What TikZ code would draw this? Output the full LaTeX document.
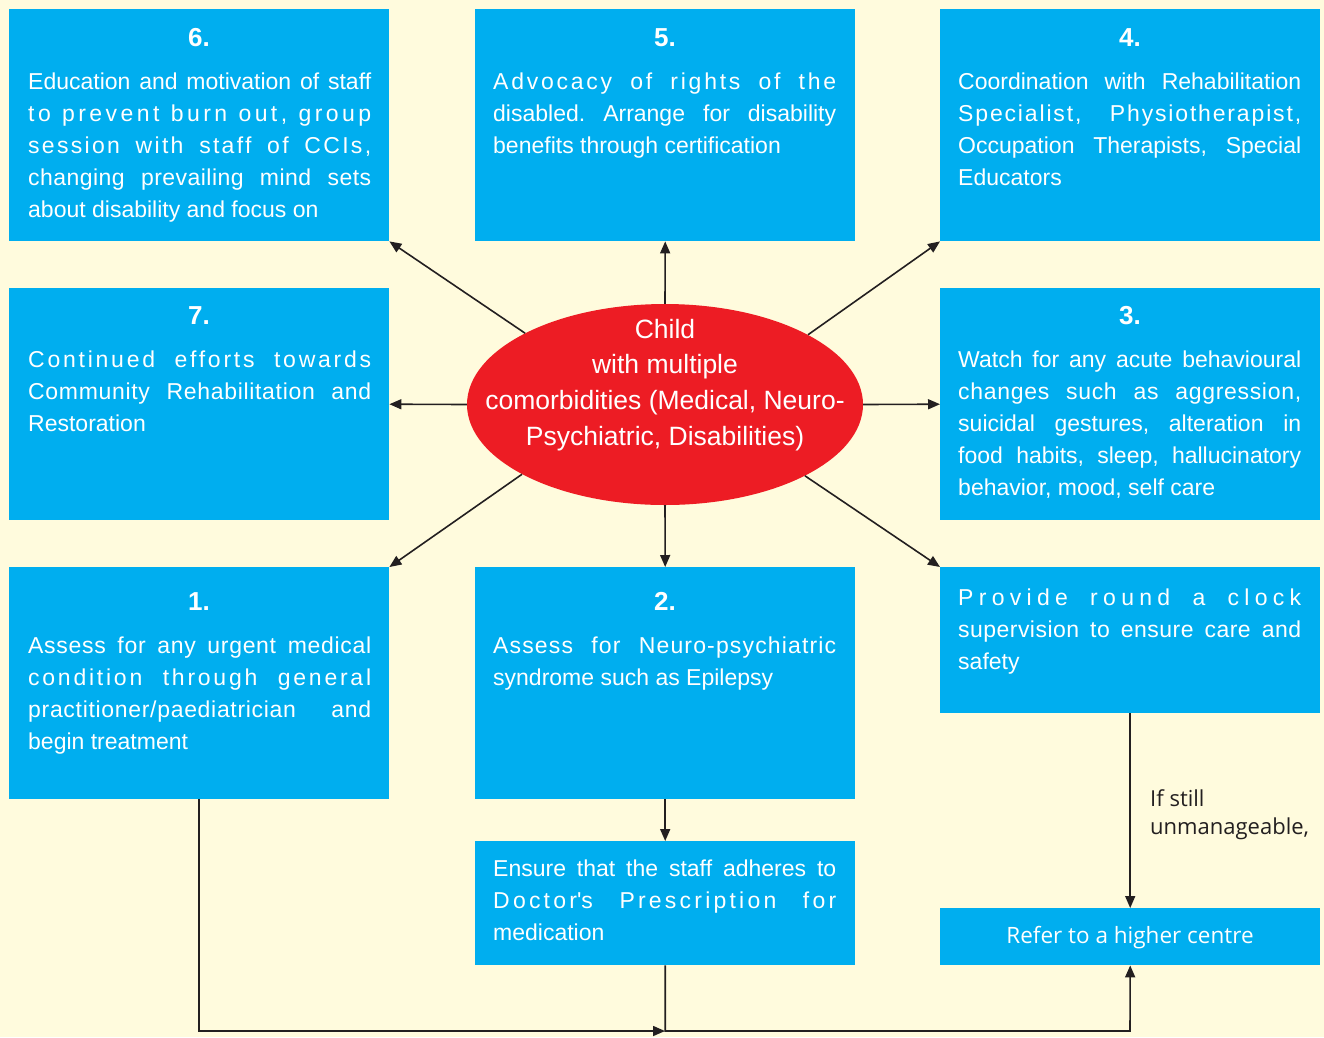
\documentclass[tikz,border=0pt]{standalone}
\usepackage{fontspec}
\setmainfont{Liberation Sans}
\newfontfamily\osans{Open Sans}
\usetikzlibrary{arrows.meta,shapes.geometric}
\definecolor{bgc}{HTML}{FFFBDD}
\definecolor{boxc}{HTML}{00AEEF}
\definecolor{redc}{HTML}{ED1C24}
\definecolor{linec}{HTML}{231F20}
\frenchspacing
\newcommand\jl[2][0]{\makebox[\linewidth][s]{\addfontfeature{LetterSpace=#1}#2}}
\newcommand\blk[1]{\parbox[t]{343pt}{\fontsize{23}{32}\selectfont #1}}
\begin{document}
\begin{tikzpicture}[x=1pt,y=-1pt,
  box/.style={rectangle,fill=boxc,inner sep=0pt,anchor=north west,minimum width=380pt},
  num/.style={text=white,font=\fontsize{26}{26}\selectfont\bfseries,anchor=base,inner sep=0pt},
  txt/.style={text=white,anchor=base west,inner sep=0pt},
  arr/.style={draw=linec,line width=1.6pt,-{Triangle[length=12pt,width=10pt]}}]
\fill[bgc] (0,0) rectangle (1324,1037);
\useasboundingbox (0,0) rectangle (1324,1037);

% boxes
\node[box,minimum height=232pt] (b6) at (9,9) {};
\node[box,minimum height=232pt] (b5) at (475,9) {};
\node[box,minimum height=232pt] (b4) at (940,9) {};
\node[box,minimum height=232pt] (b7) at (9,288) {};
\node[box,minimum height=232pt] (b3) at (940,288) {};
\node[box,minimum height=232pt] (b1) at (9,567) {};
\node[box,minimum height=232pt] (b2) at (475,567) {};
\node[box,minimum height=146pt] (bp) at (940,567) {};
\node[box,minimum height=124pt] (be) at (475,841) {};
\node[box,minimum height=57pt] (br) at (940,908) {};

% centre ellipse
\node[ellipse,fill=redc,minimum width=396pt,minimum height=201pt,inner sep=0pt] (c) at (665,404.5) {};
\node[anchor=base,inner sep=0pt,text=white] (ct) at (665,338)
  {\parbox[t]{420pt}{\centering\fontsize{26.5}{35.7}\selectfont Child\\with multiple\\comorbidities (Medical, Neuro-\\Psychiatric, Disabilities)}};

% arrows from centre
\draw[arr] (c.153.43) -- (b6.south east);
\draw[arr] (c.north) -- (b5.south);
\draw[arr] (c.26.57) -- (b4.south west);
\draw[arr] (c.west) -- (b7.east);
\draw[arr] (c.east) -- (b3.west);
\draw[arr] (c.206.57) -- (b1.north east);
\draw[arr] (c.south) -- (b2.north);
\draw[arr] (c.333.43) -- (bp.north west);

% other connectors
\draw[arr] (b2.south) -- (be.north);
\draw[arr] (bp.south) -- (br.north);
\coordinate (m) at (665,1031);
\coordinate (m2) at (1130,1031);
\draw[arr] (b1.south) |- (m);
\draw[arr] (be.south) |- (m2) -- (br.south);

% numbers
\node[num] (n6) at (199,46) {6.};
\node[num] (n5) at (665,46) {5.};
\node[num] (n4) at (1130,46) {4.};
\node[num] (n7) at (199,324) {7.};
\node[num] (n3) at (1130,324) {3.};
\node[num] (n1) at (199,610) {1.};
\node[num] (n2) at (665,610) {2.};

% texts
\node[txt] (t6) at (28,89) {\blk{%
\jl{Education and motivation of staff}\\
\jl[15]{to prevent burn out, group}\\
\jl[10]{session with staff of CCIs,}\\
\jl[2]{changing prevailing mind sets}\\
about disability and focus on}};
\node[txt] (t5) at (493,89) {\blk{%
\jl[12]{Advocacy of rights of the}\\
\jl{disabled. Arrange for disability}\\
benefits through certification}};
\node[txt] (t4) at (958,89) {\blk{%
\jl{Coordination with Rehabilitation}\\
\jl[8]{Specialist, Physiotherapist,}\\
\jl{Occupation Therapists, Special}\\
Educators}};
\node[txt] (t7) at (28,367) {\blk{%
\jl[12]{Continued efforts towards}\\
\jl[3]{Community Rehabilitation and}\\
Restoration}};
\node[txt] (t3) at (958,367) {\blk{%
\jl{Watch for any acute behavioural}\\
\jl[3]{changes such as aggression,}\\
\jl{suicidal gestures, alteration in}\\
\jl{food habits, sleep, hallucinatory}\\
behavior, mood, self care}};
\node[txt] (t1) at (28,653) {\blk{%
\jl[3]{Assess for any urgent medical}\\
\jl[12]{condition through general}\\
\jl[3]{practitioner/paediatrician and}\\
begin treatment}};
\node[txt] (t2) at (493,653) {\blk{%
\jl[5]{Assess for Neuro-psychiatric}\\
syndrome such as Epilepsy}};
\node[txt] (tp) at (958,605) {\blk{%
\jl[23]{Provide round a clock}\\
\jl[2]{supervision to ensure care and}\\
safety}};
\node[txt] (te) at (493,876) {\blk{%
\jl{Ensure that the staff adheres to}\\
\jl[14]{Doctor\textquotesingle s Prescription for}\\
medication}};

\node[anchor=base,inner sep=0pt,text=white,font=\osans\fontsize{22.5}{27}\selectfont] (rt) at (1130,943) {Refer to a higher centre};
\node[anchor=base west,inner sep=0pt,text=linec] (lbl) at (1150,806)
  {\parbox[t]{180pt}{\raggedright\osans\fontsize{22}{28}\selectfont If still\\unmanageable,}};
\end{tikzpicture}
\end{document}
